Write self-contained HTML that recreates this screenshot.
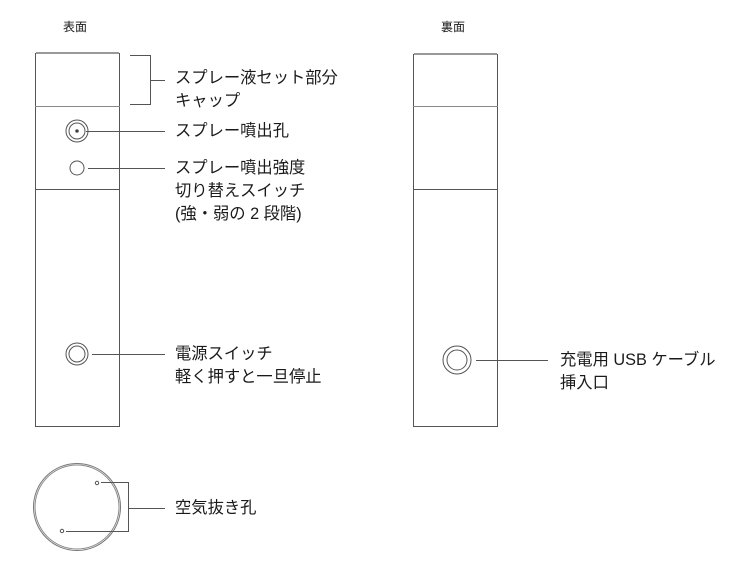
<!DOCTYPE html>
<html><head><meta charset="utf-8"><style>
body{margin:0;background:#fff;width:750px;height:569px;overflow:hidden;position:relative;font-family:"Liberation Sans","Noto Sans CJK JP",sans-serif;color:#1a1a1a}
.t{position:absolute;font-size:16.3px;line-height:23px;white-space:nowrap}
.h{position:absolute;font-size:12px}
</style></head><body>
<svg width="750" height="569" style="position:absolute;left:0;top:0" fill="none" stroke="#555" stroke-width="1">
<rect x="35.5" y="53.5" width="84" height="373"/>
<line x1="36" y1="53" x2="119" y2="53" stroke="#999" stroke-width="2"/>
<line x1="35" y1="106.5" x2="120" y2="106.5" stroke="#888"/>
<line x1="35" y1="189.5" x2="120" y2="189.5"/>
<rect x="413.5" y="54.5" width="84" height="372"/>
<line x1="414" y1="54" x2="497" y2="54" stroke="#999" stroke-width="2"/>
<line x1="413" y1="106.5" x2="498" y2="106.5" stroke="#888"/>
<line x1="413" y1="189.5" x2="498" y2="189.5"/>
<polyline points="130,55.5 150.5,55.5 150.5,104.5 130,104.5"/>
<line x1="150" y1="80.5" x2="165" y2="80.5"/>
<circle cx="77" cy="131" r="11"/><circle cx="77" cy="131" r="8"/><circle cx="77" cy="131" r="1.3" fill="#222"/>
<line x1="86" y1="131.5" x2="165" y2="131.5"/>
<circle cx="77" cy="168" r="7"/>
<line x1="88" y1="168.5" x2="165" y2="168.5"/>
<circle cx="77" cy="354" r="11"/><circle cx="77" cy="354" r="8"/>
<line x1="92" y1="354.5" x2="165" y2="354.5"/>
<circle cx="457" cy="360" r="14"/><circle cx="457" cy="360" r="10"/>
<line x1="476" y1="360.5" x2="548" y2="360.5"/>
<circle cx="77" cy="507" r="43.5" stroke="#777"/><circle cx="77" cy="507" r="42" stroke="#888"/>
<circle cx="97" cy="483" r="1.7"/><circle cx="62" cy="531" r="1.7"/>
<polyline points="101,482.5 128.5,482.5 128.5,531.5 66,531.5"/>
<line x1="128" y1="508.5" x2="165" y2="508.5"/>
</svg>
<div class="h" style="left:63px;top:18px">表面</div>
<div class="h" style="left:441px;top:18px">裏面</div>
<div class="t" style="left:175px;top:67px">スプレー液セット部分<br>キャップ</div>
<div class="t" style="left:175px;top:120px">スプレー噴出孔</div>
<div class="t" style="left:175px;top:157px">スプレー噴出強度<br>切り替えスイッチ<br>(強・弱の 2 段階)</div>
<div class="t" style="left:175px;top:343px">電源スイッチ<br>軽く押すと一旦停止</div>
<div class="t" style="left:560px;top:349px">充電用 USB ケーブル<br>挿入口</div>
<div class="t" style="left:175px;top:497px">空気抜き孔</div>
</body></html>
